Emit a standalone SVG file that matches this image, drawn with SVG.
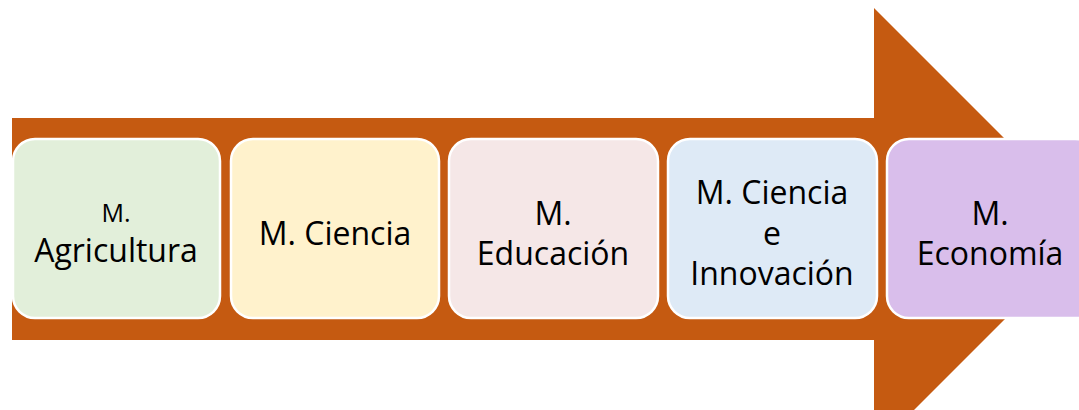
<svg xmlns="http://www.w3.org/2000/svg" width="1079" height="410" viewBox="0 0 1079 410">
<style>
.box{stroke:#ffffff;stroke-width:2.5}
.t{font-family:"Open Sans","Noto Sans",sans-serif;font-size:32px;fill:#000;text-anchor:middle}
.s{font-size:25px}
</style>
<rect width="1079" height="410" fill="#ffffff"/>
<g id="arrow">
<polygon points="12,118 874,118 874,8 1095,229 874,450 874,340 12,340" fill="#C55A11"/>
</g>
<g id="n1">
<rect class="box" x="13" y="139" width="207" height="179" rx="22" fill="#E2EFDA"/>
<text class="t s" x="116" y="222">M.</text>
<text class="t" x="116" y="262">Agricultura</text>
</g>
<g id="n2">
<rect class="box" x="231" y="139" width="208" height="179" rx="22" fill="#FFF2CC"/>
<text class="t" x="335" y="245">M. Ciencia</text>
</g>
<g id="n3">
<rect class="box" x="449" y="139" width="209" height="179" rx="22" fill="#F5E7E7"/>
<text class="t" x="553" y="225">M.</text>
<text class="t" x="553" y="265">Educación</text>
</g>
<g id="n4">
<rect class="box" x="668" y="139" width="209" height="179" rx="22" fill="#DEEAF6"/>
<text class="t" x="772" y="204">M. Ciencia</text>
<text class="t" x="772" y="245">e</text>
<text class="t" x="772" y="285">Innovación</text>
</g>
<g id="n5">
<rect class="box" x="887" y="139" width="210" height="179" rx="22" fill="#D9BEEB"/>
<text class="t" x="990" y="225">M.</text>
<text class="t" x="990" y="265">Economía</text>
</g>
<g id="connectors"></g>
</svg>
